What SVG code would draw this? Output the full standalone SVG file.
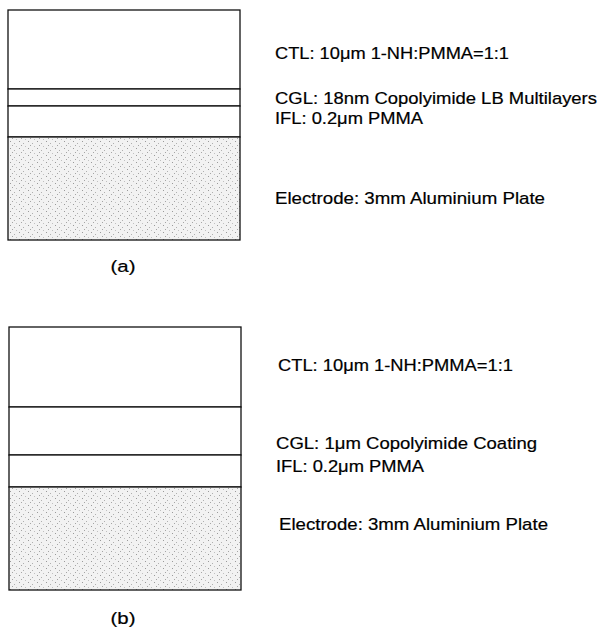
<svg xmlns="http://www.w3.org/2000/svg" width="601" height="629" viewBox="0 0 601 629">
<style>
.layer{fill:#fff;stroke:#111;stroke-width:1.3}
.elec{fill:url(#stip);stroke:#111;stroke-width:1.3}
.t{font-family:"Liberation Sans",Arial,sans-serif;font-size:16px;fill:#000;stroke:#000;stroke-width:0.2}
.lab{font-family:"Liberation Sans",Arial,sans-serif;font-size:17px;fill:#000;stroke:#000;stroke-width:0.2;text-anchor:middle}
</style>
<defs>
<pattern id="stip" width="9" height="7" patternUnits="userSpaceOnUse">
<rect width="9" height="7" fill="#f2f2f2"/>
<rect x="1" y="1" width="1" height="1" fill="#9a9a9a"/>
<rect x="5" y="3" width="1" height="1" fill="#b0b0b0"/>
<rect x="3" y="5" width="1" height="1" fill="#a5a5a5"/>
<rect x="7" y="6" width="1" height="1" fill="#c0c0c0"/>
</pattern>
</defs>
<g id="stackA">
<rect class="layer" x="8" y="10" width="232" height="79"/>
<rect class="layer" x="8" y="89" width="232" height="17"/>
<rect class="layer" x="8" y="106" width="232" height="31"/>
<rect class="elec" x="8" y="137" width="232" height="103"/>
<text class="lab" transform="translate(123,272) scale(1.2,1)">(a)</text>
</g>
<g id="labelsA">
<text class="t" transform="translate(275,59) scale(1.15,1)" textLength="203.5" lengthAdjust="spacingAndGlyphs">CTL: 10μm 1-NH:PMMA=1:1</text>
<text class="t" transform="translate(275,104) scale(1.15,1)" textLength="280" lengthAdjust="spacingAndGlyphs">CGL: 18nm Copolyimide LB Multilayers</text>
<text class="t" transform="translate(275,124) scale(1.15,1)" textLength="128.7" lengthAdjust="spacingAndGlyphs">IFL: 0.2μm PMMA</text>
<text class="t" transform="translate(275,204) scale(1.15,1)" textLength="234.8" lengthAdjust="spacingAndGlyphs">Electrode: 3mm Aluminium Plate</text>
</g>
<g id="stackB">
<rect class="layer" x="9" y="327" width="232" height="80"/>
<rect class="layer" x="9" y="407" width="232" height="48"/>
<rect class="layer" x="9" y="455" width="232" height="32"/>
<rect class="elec" x="9" y="487" width="232" height="103"/>
<text class="lab" transform="translate(123,624) scale(1.2,1)">(b)</text>
</g>
<g id="labelsB">
<text class="t" transform="translate(278,371) scale(1.15,1)" textLength="204.3" lengthAdjust="spacingAndGlyphs">CTL: 10μm 1-NH:PMMA=1:1</text>
<text class="t" transform="translate(276,449) scale(1.15,1)" textLength="227" lengthAdjust="spacingAndGlyphs">CGL: 1μm Copolyimide Coating</text>
<text class="t" transform="translate(276,472) scale(1.15,1)" textLength="128.7" lengthAdjust="spacingAndGlyphs">IFL: 0.2μm PMMA</text>
<text class="t" transform="translate(279,530) scale(1.15,1)" textLength="233.9" lengthAdjust="spacingAndGlyphs">Electrode: 3mm Aluminium Plate</text>
</g>
<g id="connectors"></g>
</svg>
